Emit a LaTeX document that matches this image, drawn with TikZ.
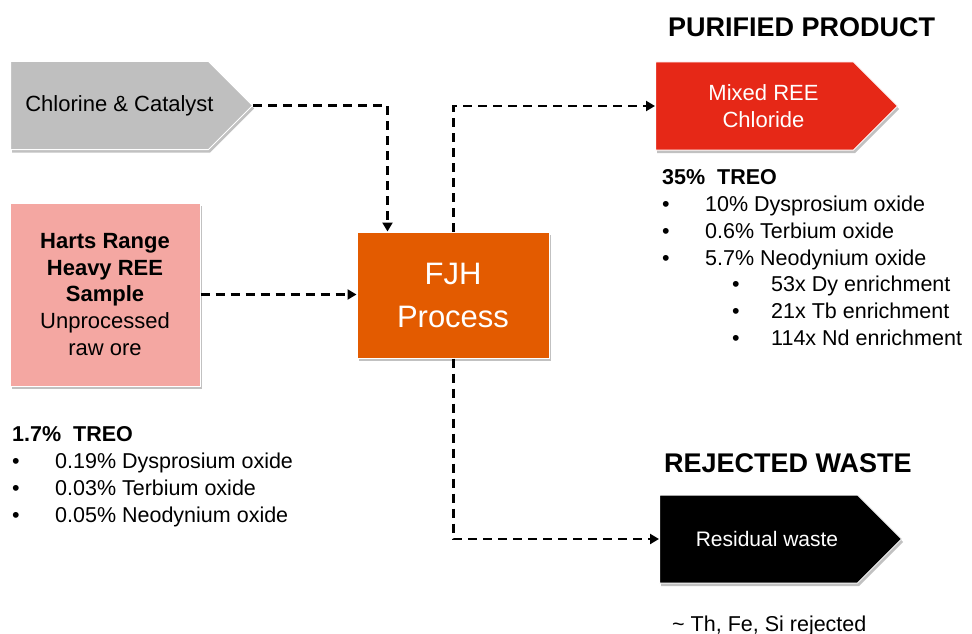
\documentclass[tikz,border=0pt]{standalone}
\usepackage{fontspec}
\setmainfont{Liberation Sans}
\usetikzlibrary{arrows.meta,shapes.symbols,shadows}
\definecolor{cgray}{HTML}{BFBFBF}
\definecolor{cpink}{HTML}{F4A7A2}
\definecolor{corange}{HTML}{E35B00}
\definecolor{cred}{HTML}{E62817}
\tikzset{
  conn/.style={draw=black, line width=2.4pt, dash pattern=on 9pt off 6pt, -{Triangle[length=9pt,width=10pt]}},
  shad/.style={drop shadow={shadow xshift=1.5pt, shadow yshift=-3pt, opacity=0.35, fill=black!70}},
  sig/.style={signal, signal to=east, signal pointer angle=90, minimum width=242pt, minimum height=88pt, inner sep=0pt, draw=white, line width=1pt, shad},
  boxs/.style={rectangle, draw=white, line width=1pt, inner sep=0pt, shad},
  body/.style={font=\fontsize{21.5}{26.8}\selectfont, inner sep=0pt},
  head/.style={font=\fontsize{27}{30}\selectfont\bfseries, inner sep=0pt, anchor=base west},
}
\begin{document}
\begin{tikzpicture}[x=1pt,y=-1pt]
\useasboundingbox (0,0) rectangle (972,634);
% shapes
\node[sig, fill=cgray, anchor=west] (chl) at (10,105.5) {};
\node[body, font=\fontsize{22}{27}\selectfont] (chltext) at (119.5,106) {Chlorine \& Catalyst};
\node[boxs, fill=cpink, minimum width=190pt, minimum height=183pt, align=center, font=\fontsize{22}{26.75}\selectfont] (harts) at (105,294.5)
  {\textbf{Harts Range}\\\textbf{Heavy REE}\\\textbf{Sample}\\Unprocessed\\raw ore};
\node[boxs, fill=corange, minimum width=192pt, minimum height=126pt, align=center, text=white, font=\fontsize{31}{43}\selectfont] (fjh) at (453,295)
  {FJH\\Process};
\node[sig, fill=cred, anchor=west] (mix) at (655,106) {};
\node[body, align=center, text=white, font=\fontsize{22}{27}\selectfont] (mixtext) at (763.5,106.5) {Mixed REE\\Chloride};
\node[sig, fill=black, anchor=west] (res) at (659,539) {};
\node[body, text=white, font=\fontsize{21}{27}\selectfont] (restext) at (767,539) {Residual waste};
% headings
\node[head] (hprod) at (668,37) {PURIFIED PRODUCT};
\node[head] (hwaste) at (664,472) {REJECTED WASTE};
% lists (base anchor = baseline of the last line)
\node[body, anchor=base west, align=left] (plist) at (662,345.5)
  {\textbf{35\%\ \ TREO}\\
   \makebox[43pt][l]{•}10\% Dysprosium oxide\\
   \makebox[43pt][l]{•}0.6\% Terbium oxide\\
   \makebox[43pt][l]{•}5.7\% Neodynium oxide\\
   \hspace*{70pt}\makebox[39pt][l]{•}53x Dy enrichment\\
   \hspace*{70pt}\makebox[39pt][l]{•}21x Tb enrichment\\
   \hspace*{70pt}\makebox[39pt][l]{•}114x Nd enrichment};
\node[body, anchor=base west, align=left, font=\fontsize{21.5}{27}\selectfont] (olist) at (12,522.5)
  {\textbf{1.7\%\ \ TREO}\\
   \makebox[43pt][l]{•}0.19\% Dysprosium oxide\\
   \makebox[43pt][l]{•}0.03\% Terbium oxide\\
   \makebox[43pt][l]{•}0.05\% Neodynium oxide};
\node[body, anchor=base west] (rej) at (672,631) {\textasciitilde\ Th, Fe, Si rejected};
% connectors
\draw[conn] (chl.east) -| ([xshift=31pt]fjh.north west);
\draw[conn] (harts.east) -- (harts.east -| fjh.west);
\draw[conn] ([xshift=97pt]fjh.north west) |- (mix.west);
\draw[conn] ([xshift=97pt]fjh.south west) |- (res.west);
\end{tikzpicture}
\end{document}
